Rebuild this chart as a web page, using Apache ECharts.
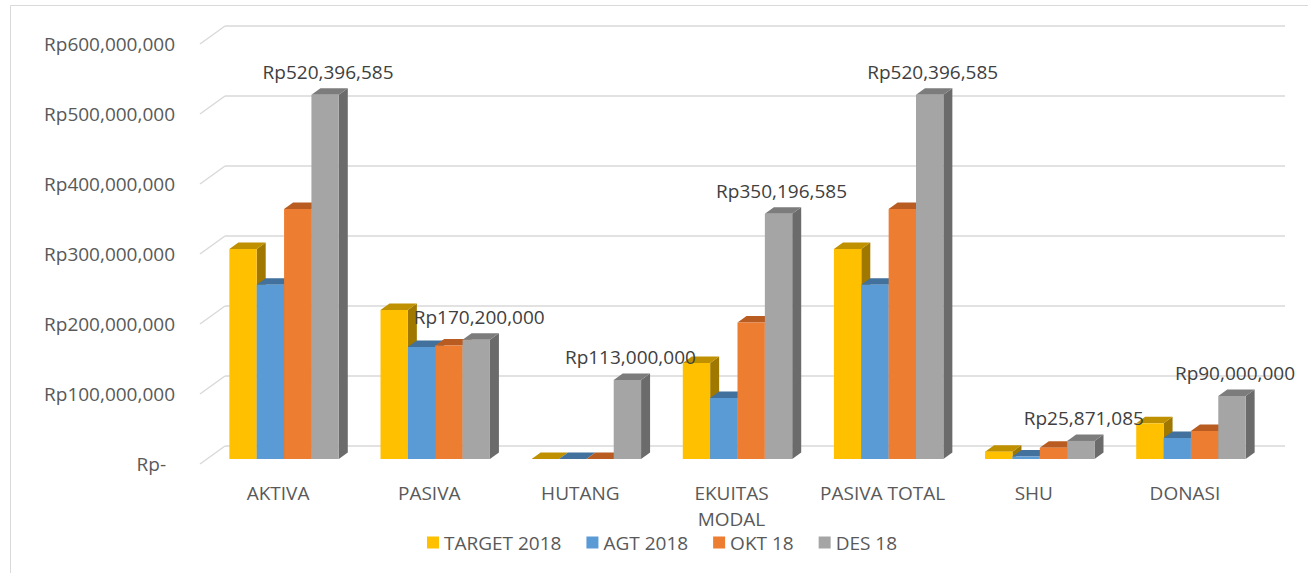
<!DOCTYPE html>
<html>
<head>
<meta charset="utf-8">
<script src="https://cdn.jsdelivr.net/npm/echarts@6/dist/echarts.min.js"></script>
<style>
html,body{margin:0;padding:0;background:#fff;}
#main{width:1308px;height:573px;}
</style>
</head>
<body>
<div id="main"></div>
<script>
var categories = ['AKTIVA', 'PASIVA', 'HUTANG', 'EKUITAS\nMODAL', 'PASIVA TOTAL', 'SHU', 'DONASI'];
var seriesNames = ['TARGET 2018', 'AGT 2018', 'OKT 18', 'DES 18'];
var target2018 = [300000000, 213000000, 0, 137000000, 300000000, 10500000, 51000000];
var agt2018 = [249000000, 160000000, 0, 87000000, 249000000, 3500000, 30000000];
var okt18 = [357000000, 162000000, 0, 195000000, 357000000, 16000000, 40000000];
var des18 = [520396585, 170200000, 113000000, 350196585, 520396585, 25871085, 90000000];
var yTickValues = [0, 100000000, 200000000, 300000000, 400000000, 500000000, 600000000];
var yTickLabels = ['Rp-', 'Rp100,000,000', 'Rp200,000,000', 'Rp300,000,000', 'Rp400,000,000', 'Rp500,000,000', 'Rp600,000,000'];

var FONT = '"Open Sans", "Noto Sans", sans-serif';
var faceColors = [
  {front: '#FFC000', top: '#BF9000', side: '#A07800'},
  {front: '#5B9BD5', top: '#41719C', side: '#36608A'},
  {front: '#ED7D31', top: '#B85C22', side: '#9C4E1C'},
  {front: '#A5A5A5', top: '#7C7C7C', side: '#6B6B6B'}
];
var DX = 9, DY = -6.5, BAR_RATIO = 0.181;

function fmtRp(v) { return 'Rp' + Math.round(v).toLocaleString('en-US'); }

function makeRender(sIdx, withLabel) {
  return function (params, api) {
    var ci = api.value(0), v = api.value(1);
    var base = api.coord([ci, 0]);
    var top = api.coord([ci, v]);
    var band = api.size([1, 0])[0];
    var w = band * BAR_RATIO;
    var x0 = base[0] - 2 * w + sIdx * w, x1 = x0 + w;
    var yb = base[1], yt = top[1];
    var c = faceColors[sIdx];
    var children = [
      {type: 'polygon', shape: {points: [[x1, yt], [x1 + DX, yt + DY], [x1 + DX, yb + DY], [x1, yb]]}, style: {fill: c.side}},
      {type: 'polygon', shape: {points: [[x0, yt], [x0 + DX, yt + DY], [x1 + DX, yt + DY], [x1, yt]]}, style: {fill: c.top}},
      {type: 'rect', shape: {x: x0, y: yt, width: w, height: yb - yt}, style: {fill: c.front}}
    ];
    if (withLabel) {
      children.push({type: 'text', style: {text: fmtRp(v), x: (x0 + x1) / 2 + 3, y: yt - 23, align: 'center', verticalAlign: 'middle', fill: '#404040', font: '19px ' + FONT}});
    }
    return {type: 'group', children: children};
  };
}

function pairs(arr) { return arr.map(function (v, i) { return [i, v]; }); }
var allSeries = [target2018, agt2018, okt18, des18];

var series = [];
// slanted floor-to-wall connectors for gridlines
series.push({
  type: 'custom', xAxisIndex: 2, yAxisIndex: 2, z: 1, silent: true,
  data: yTickValues.map(function (v) { return [0, v]; }),
  renderItem: function (params, api) {
    var p = api.coord([0, api.value(1)]);
    return {type: 'line', shape: {x1: p[0], y1: p[1], x2: p[0] + 25, y2: p[1] - 18}, style: {stroke: '#D9D9D9', lineWidth: 1.5}};
  }
});
for (var s = 0; s < 4; s++) {
  series.push({
    name: seriesNames[s], type: 'custom', xAxisIndex: 0, yAxisIndex: 0, z: 2 + s,
    itemStyle: {color: faceColors[s].front},
    data: pairs(allSeries[s]),
    encode: {x: 0, y: 1},
    renderItem: makeRender(s, s === 3)
  });
}

var chart = echarts.init(document.getElementById('main'), null, {renderer: 'svg'});
chart.setOption({
  backgroundColor: '#fff',
  animation: false,
  graphic: [{type: 'rect', left: 8, top: 3, shape: {x: 0, y: 0, width: 1400, height: 700}, style: {fill: 'none', stroke: '#D9D9D9', lineWidth: 1}, silent: true, z: -1}],
  legend: {
    data: seriesNames, left: 422, top: 528, icon: 'rect', itemWidth: 12, itemHeight: 12, itemGap: 25,
    textStyle: {color: '#595959', fontSize: 19, fontFamily: FONT}
  },
  grid: [
    {left: 208.5, right: 41.5, top: 39, bottom: 114},
    {left: 225, right: 23, top: 26, height: 420},
    {left: 200, width: 25, top: 44, height: 420}
  ],
  xAxis: [
    {type: 'category', gridIndex: 0, data: categories, axisLine: {show: false}, axisTick: {show: false},
     axisLabel: {color: '#595959', fontSize: 19, fontFamily: FONT, margin: 21, lineHeight: 26, padding: [0, 12, 0, 0], interval: 0}},
    {type: 'value', gridIndex: 1, min: 0, max: 1, show: false},
    {type: 'value', gridIndex: 2, min: 0, max: 1, show: false}
  ],
  yAxis: [
    {type: 'value', gridIndex: 0, min: 0, max: 600000000, interval: 100000000, show: false},
    {type: 'value', gridIndex: 1, min: 0, max: 600000000, interval: 100000000, axisLine: {show: false}, axisTick: {show: false}, axisLabel: {show: false},
     splitLine: {show: true, lineStyle: {color: '#D9D9D9', width: 1.5}}},
    {type: 'value', gridIndex: 2, min: 0, max: 600000000, interval: 100000000, axisLine: {show: false}, axisTick: {show: false}, splitLine: {show: false},
     axisLabel: {color: '#595959', fontSize: 19, fontFamily: FONT, margin: 25,
       formatter: function (v) { var i = yTickValues.indexOf(v); var t = i >= 0 ? yTickLabels[i] : ''; return v === 0 ? '{d|' + t + '}' : t; },
       rich: {d: {color: '#595959', fontSize: 19, fontFamily: FONT, padding: [0, 9, 0, 0]}}}}
  ],
  series: series
});
</script>
</body>
</html>
